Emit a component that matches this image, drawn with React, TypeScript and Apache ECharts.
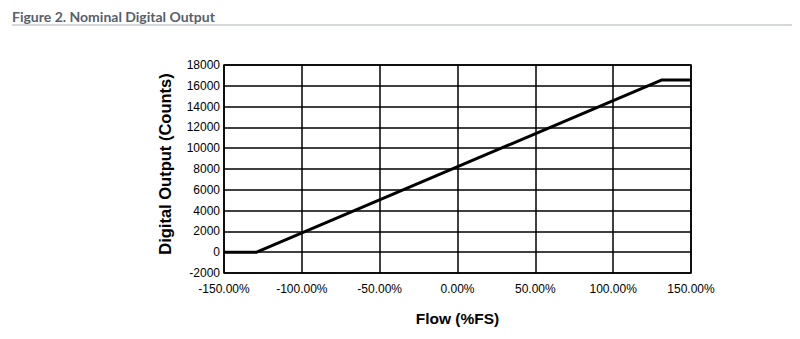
import React, { useEffect, useRef } from "react";
import * as echarts from "echarts";

const flowPct: number[] = [-150, -129, 131, 150];
const counts: number[] = [0, 0, 16550, 16550];
const yTicks: number[] = [-2000, 0, 2000, 4000, 6000, 8000, 10000, 12000, 14000, 16000, 18000];
const xTicks: number[] = [-150, -100, -50, 0, 50, 100, 150];

export default function App() {
  const ref = useRef<HTMLDivElement>(null);
  useEffect(() => {
    if (!ref.current) return;
    const chart = echarts.init(ref.current, undefined, { renderer: "svg" });
    const font = "'Liberation Sans', Arial, sans-serif";
    chart.setOption({
      animation: false,
      backgroundColor: "#ffffff",
      title: {
        text: "Figure 2. Nominal Digital Output",
        left: 4,
        top: 1,
        padding: 0,
        textStyle: { fontFamily: "Lato, 'Open Sans', sans-serif", fontSize: 14, fontWeight: "bold", color: "#56606b" },
      },
      graphic: [
        { type: "line", shape: { x1: 4, y1: 17, x2: 784, y2: 17 }, style: { stroke: "#c9ccd0", lineWidth: 1.5 } },
      ],
      grid: { left: 216, right: 101, top: 57, bottom: 56, show: true, borderColor: "#000", borderWidth: 1.5 },
      xAxis: {
        type: "value",
        min: xTicks[0],
        max: xTicks[xTicks.length - 1],
        interval: 50,
        name: "Flow (%FS)",
        nameLocation: "middle",
        nameGap: 37,
        nameTextStyle: { fontFamily: font, fontSize: 15.5, fontWeight: "bold", color: "#000" },
        axisLine: { show: false },
        axisTick: { show: false },
        axisLabel: { fontFamily: font, fontSize: 12, color: "#000", margin: 10, formatter: (v: number) => v.toFixed(2) + "%" },
        splitLine: { show: true, lineStyle: { color: "#000", width: 1.5 } },
      },
      yAxis: {
        type: "value",
        min: yTicks[0],
        max: yTicks[yTicks.length - 1],
        interval: 2000,
        name: "Digital Output (Counts)",
        nameLocation: "middle",
        nameGap: 51,
        nameTextStyle: { fontFamily: font, fontSize: 16.5, fontWeight: "bold", color: "#000", padding: [0, 0, 0, 10] },
        axisLine: { show: false },
        axisTick: { show: false },
        axisLabel: { fontFamily: font, fontSize: 12, color: "#000", margin: 4, formatter: (v: number) => String(v) },
        splitLine: { show: true, lineStyle: { color: "#000", width: 1.5 } },
      },
      series: [
        {
          type: "line",
          data: flowPct.map((x, i) => [x, counts[i]]),
          showSymbol: false,
          lineStyle: { color: "#000", width: 3 },
        },
      ],
    });
    return () => chart.dispose();
  }, []);
  return <div ref={ref} style={{ width: 784, height: 323 }} />;
}
